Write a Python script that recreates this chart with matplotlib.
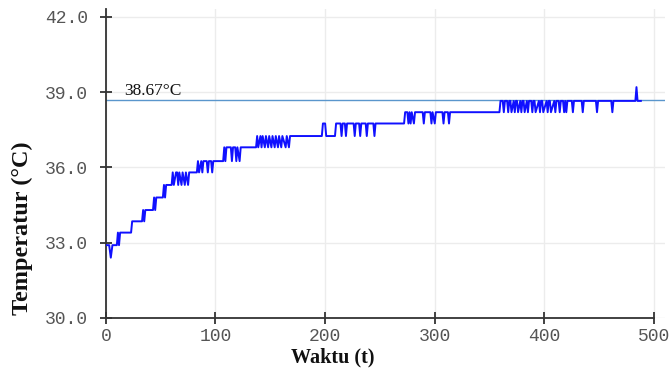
import matplotlib
matplotlib.use("Agg")
import matplotlib.pyplot as plt

# temperature readings (time in s, temperature in degC)
waktu = [0, 3, 4.5, 6, 10, 11, 12, 13,
         23, 24, 33, 34, 35, 36,
         43, 44, 45, 46, 52, 53, 54, 55,
         60, 61, 62, 64, 65, 66, 67, 69, 70, 72, 73, 75, 76,
         83, 84, 85, 87, 88, 89, 92, 93, 94, 96, 97, 98,
         107, 108, 109, 110, 114, 115, 116, 118, 119, 120, 122, 123,
         137, 138, 139, 141, 142, 143, 145, 146, 148, 149, 151, 152, 154, 155,
         157, 158, 160, 161, 164, 165, 167, 168,
         197, 198, 200, 201, 209, 210, 214, 215, 216, 218, 219, 220,
         226, 227, 228, 231, 232, 233, 237, 238, 239, 244, 245, 246,
         272, 273, 275, 276, 277, 278, 279, 281, 282, 289, 290, 291,
         296, 297, 298, 300, 301, 307, 308, 309, 312, 313, 314,
         359, 360, 362, 363, 364, 366, 367, 368, 369, 370, 372, 373, 374,
         375, 376, 378, 379, 380, 381, 382, 384, 385, 386, 388, 389, 390,
         391, 392, 395, 396, 397, 398, 399, 402, 403, 404, 405, 406,
         409, 410, 411, 413, 414, 415, 417, 418, 419, 420, 421,
         425, 426, 427, 434, 435, 436, 447, 448, 449, 461, 462, 463,
         483, 484, 485, 488]
suhu = [32.9, 32.9, 32.4, 32.9, 32.9, 33.4, 32.9, 33.4,
        33.4, 33.85, 33.85, 34.3, 33.85, 34.3,
        34.3, 34.8, 34.3, 34.8, 34.8, 35.3, 34.8, 35.3,
        35.3, 35.8, 35.3, 35.8, 35.8, 35.3, 35.8, 35.3, 35.8, 35.3, 35.8, 35.3, 35.8,
        35.8, 36.25, 35.8, 36.25, 35.8, 36.25, 36.25, 35.8, 36.25, 36.25, 35.8, 36.25,
        36.25, 36.8, 36.25, 36.8, 36.8, 36.25, 36.8, 36.8, 36.25, 36.8, 36.25, 36.8,
        36.8, 37.25, 36.8, 37.25, 36.8, 37.25, 36.8, 37.25, 36.8, 37.25, 36.8, 37.25, 36.8, 37.25,
        36.8, 37.25, 36.8, 37.25, 36.8, 37.25, 36.8, 37.25,
        37.25, 37.75, 37.75, 37.25, 37.25, 37.75, 37.75, 37.25, 37.75, 37.75, 37.25, 37.75,
        37.75, 37.25, 37.75, 37.75, 37.25, 37.75, 37.75, 37.25, 37.75, 37.75, 37.25, 37.75,
        37.75, 38.2, 38.2, 37.75, 38.2, 37.75, 38.2, 37.75, 38.2, 38.2, 37.75, 38.2,
        38.2, 37.75, 38.2, 37.75, 38.2, 38.2, 37.75, 38.2, 38.2, 37.75, 38.2,
        38.2, 38.65, 38.65, 38.2, 38.65, 38.65, 38.2, 38.65, 38.65, 38.2, 38.65, 38.2, 38.65,
        38.65, 38.2, 38.65, 38.2, 38.65, 38.65, 38.2, 38.65, 38.2, 38.65, 38.65, 38.2, 38.65,
        38.65, 38.2, 38.65, 38.2, 38.65, 38.65, 38.2, 38.65, 38.2, 38.65, 38.65, 38.2,
        38.65, 38.2, 38.65, 38.65, 38.2, 38.65, 38.65, 38.2, 38.65, 38.2, 38.65,
        38.65, 38.2, 38.65, 38.65, 38.2, 38.65, 38.65, 38.2, 38.65, 38.65, 38.2, 38.65,
        38.65, 39.2, 38.65, 38.65]

rata_rata = 38.67
x_ticks = [0, 100, 200, 300, 400, 500]
y_ticks = [30.0, 33.0, 36.0, 39.0, 42.0]

fig = plt.figure(figsize=(6.7, 3.74), dpi=100)
ax = fig.add_axes([0.158, 0.150, 0.8345, 0.825])

ax.plot(waktu, suhu, color="#1010ff", lw=1.4, zorder=3)
ax.axhline(rata_rata, color="#5a96cc", lw=1.0, zorder=2)
ax.text(17, 38.74, "%.2f°C" % rata_rata, family="Liberation Serif",
        fontsize=12.5, color="#111111", va="bottom", ha="left")

ax.set_xlim(0, 510)
ax.set_ylim(30, 42.3)
ax.set_xticks(x_ticks)
ax.set_yticks(y_ticks)
ax.set_xticklabels([str(t) for t in x_ticks])
ax.set_yticklabels(["%.1f" % v for v in y_ticks])
ax.grid(True, color="#ececec", lw=1.0, zorder=0)

for s in ["top", "right"]:
    ax.spines[s].set_visible(False)
for s in ["left", "bottom"]:
    ax.spines[s].set_color("#333333")
    ax.spines[s].set_linewidth(1.3)
ax.spines["bottom"].set_bounds(0, 500)

ax.tick_params(direction="inout", length=8, width=1.3, color="#333333",
               labelcolor="#555555", labelsize=13)
ax.tick_params(axis="y", pad=9)
ax.tick_params(axis="x", pad=3)
for lab in ax.get_xticklabels() + ax.get_yticklabels():
    lab.set_family("Liberation Mono")

ax.set_xlabel("Waktu (t)", family="Liberation Serif", fontweight="bold",
              fontsize=14.5, color="#111111")
ax.set_ylabel("Temperatur (°C)", family="Liberation Serif", fontweight="bold",
              fontsize=17.5, color="#111111")
ax.xaxis.set_label_coords(0.406, -0.095)
ax.yaxis.set_label_coords(-0.13, 0.29)

fig.savefig("out.png", dpi=100)
